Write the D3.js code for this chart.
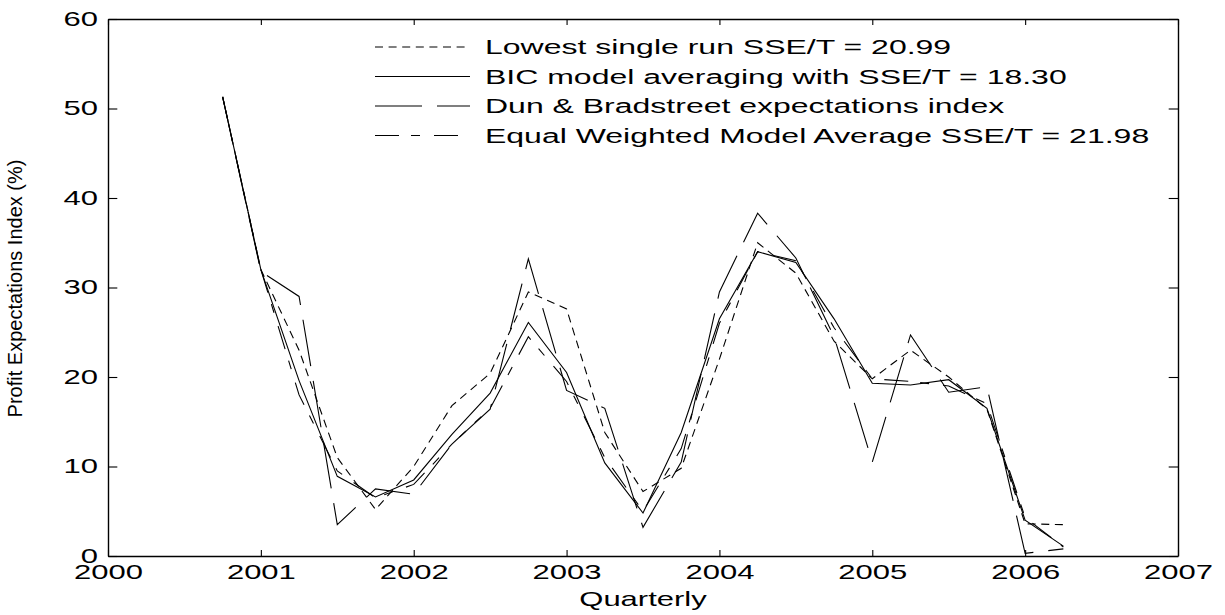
<!DOCTYPE html>
<html>
<head>
<meta charset="utf-8">
<script src="https://cdn.jsdelivr.net/npm/d3@7"></script>
<style>
  body { margin: 0; background: #fff; }
  svg { display: block; }
  text { font-family: "Liberation Sans", Arial, Helvetica, sans-serif; fill: #000; }
</style>
</head>
<body>
<svg id="chart" width="1225" height="615"></svg>
<script>
// Quarterly observation times (fractional years)
const quarters = [2000.75, 2001.00, 2001.25, 2001.50, 2001.75, 2002.00, 2002.25, 2002.50,
                  2002.75, 2003.00, 2003.25, 2003.50, 2003.75, 2004.00, 2004.25, 2004.50,
                  2004.75, 2005.00, 2005.25, 2005.50, 2005.75, 2006.00, 2006.25];

// Profit expectations index (%) per quarter
const lowestRun     = [51.3, 32.0, 23.0, 11.0, 5.2, 10.0, 16.8, 20.4, 29.5, 27.6, 13.8, 7.2,
                       9.8, 22.0, 35.0, 31.6, 24.0, 19.8, 23.0, 20.0, 16.4, 3.6, 3.5];
const bicAverage    = [51.3, 32.0, 19.6, 8.9, 6.6, 8.5, 13.6, 18.2, 26.1, 20.5, 10.4, 4.8,
                       13.8, 26.5, 34.0, 32.8, 26.5, 19.3, 19.1, 19.7, 16.5, 4.0, 1.1];
const dunBradstreet = [51.3, 31.8, 29.0, 3.5, 7.5, 6.9, 12.5, 16.4, 33.2, 18.5, 16.5, 3.2,
                       10.5, 29.5, 38.3, 33.3, 24.5, 10.5, 24.7, 18.3, 18.9, 0.3, 0.8];
const equalWeighted = [51.3, 32.0, 18.0, 9.5, 6.5, 8.0, 12.5, 16.5, 24.5, 19.5, 11.0, 5.0,
                       12.0, 26.0, 34.0, 33.0, 25.5, 19.8, 19.5, 19.0, 17.0, 4.3, 1.0];

const seriesLabels = [
  "Lowest single run SSE/T = 20.99",
  "BIC model averaging with SSE/T = 18.30",
  "Dun & Bradstreet expectations index",
  "Equal Weighted Model Average SSE/T = 21.98"
];
const yearTicks  = [2000, 2001, 2002, 2003, 2004, 2005, 2006, 2007];
const valueTicks = [0, 10, 20, 30, 40, 50, 60];
const xTitle = "Quarterly";
const yTitle = "Profit Expectations Index (%)";

// ---- layout ----
const plot = { left: 108, right: 1178, top: 19, bottom: 556 };
const stretch = 1.55;          // wide lettering used for ticks and titles
const legendStretch = 1.6;
const fontSize = 20;

const svg = d3.select("#chart");
const x = d3.scaleLinear().domain([2000, 2007]).range([plot.left, plot.right]);
const y = d3.scaleLinear().domain([0, 60]).range([plot.bottom, plot.top]);

const styles = [
  { values: lowestRun,     dash: "8,5.6" },
  { values: bicAverage,    dash: null },
  { values: dunBradstreet, dash: "47,15" },
  { values: equalWeighted, dash: "24,12,9,14" }
];

// ---- axes (ticks point inward, box on all four sides) ----
function styleAxis(g) {
  g.selectAll("path.domain").attr("stroke", "#000").attr("stroke-width", 1.4);
  g.selectAll(".tick line").attr("stroke", "#000").attr("stroke-width", 1.1);
  g.selectAll("text").attr("font-size", fontSize).attr("fill", "#000")
    .attr("font-family", null);
}

const gx = svg.append("g").attr("transform", `translate(0,${plot.bottom})`)
  .call(d3.axisBottom(x).tickValues(yearTicks).tickFormat(d3.format("d"))
        .tickSize(-6).tickSizeOuter(0).tickPadding(9));
styleAxis(gx);
gx.selectAll(".tick text").attr("transform", `scale(${stretch},1)`);

const gy = svg.append("g").attr("transform", `translate(${plot.left},0)`)
  .call(d3.axisLeft(y).tickValues(valueTicks)
        .tickSize(-9.3).tickSizeOuter(0).tickPadding(10 / stretch));
styleAxis(gy);
gy.selectAll(".tick text").attr("transform", `scale(${stretch},1)`);

const gt = svg.append("g").attr("transform", `translate(0,${plot.top})`)
  .call(d3.axisTop(x).tickValues(yearTicks).tickFormat("").tickSize(-6).tickSizeOuter(0));
styleAxis(gt);

const gr = svg.append("g").attr("transform", `translate(${plot.right},0)`)
  .call(d3.axisRight(y).tickValues(valueTicks).tickFormat("").tickSize(-9.3).tickSizeOuter(0));
styleAxis(gr);

// ---- series ----
const line = d3.line()
  .x((d, i) => x(quarters[i]))
  .y(d => y(d));

svg.append("g").selectAll("path.series")
  .data(styles)
  .join("path")
  .attr("class", "series")
  .attr("d", s => line(s.values))
  .attr("fill", "none")
  .attr("stroke", "#000")
  .attr("stroke-width", 1.1)
  .attr("stroke-dasharray", s => s.dash);

// ---- legend ----
const legend = svg.append("g");
seriesLabels.forEach((label, i) => {
  const ly = 47 + i * 29.5;
  legend.append("line")
    .attr("x1", 375).attr("x2", 470).attr("y1", ly).attr("y2", ly)
    .attr("stroke", "#000").attr("stroke-width", 1.1)
    .attr("stroke-dasharray", styles[i].dash);
  legend.append("text")
    .attr("transform", `translate(485,${ly + 7.3}) scale(${legendStretch},1)`)
    .attr("font-size", fontSize)
    .text(label);
});

// ---- axis titles ----
svg.append("text")
  .attr("transform", `translate(${(plot.left + plot.right) / 2},606) scale(${stretch},1)`)
  .attr("text-anchor", "middle")
  .attr("font-size", fontSize)
  .text(xTitle);

svg.append("text")
  .attr("transform", `translate(22,${(plot.top + plot.bottom) / 2 + 1}) rotate(-90)`)
  .attr("text-anchor", "middle")
  .attr("font-size", 20)
  .text(yTitle);
</script>
</body>
</html>
